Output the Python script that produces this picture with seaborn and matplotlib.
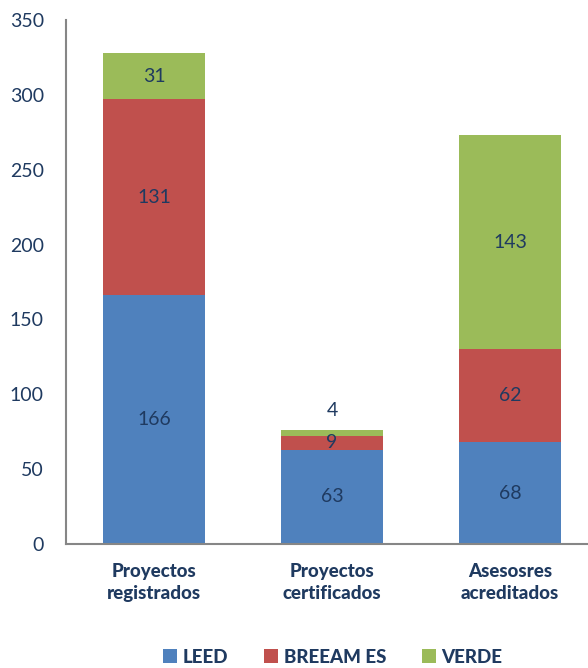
import matplotlib
matplotlib.use("Agg")
import matplotlib.pyplot as plt
import seaborn as sns
import numpy as np
import pandas as pd
from matplotlib.patches import Patch

categories = ["Proyectos\nregistrados", "Proyectos\ncertificados", "Asesosres\nacreditados"]
leed = [166, 63, 68]
breeam = [131, 9, 62]
verde = [31, 4, 143]
series_names = ["LEED", "BREEAM ES", "VERDE"]
colors = ["#4F81BD", "#C0504D", "#9BBB59"]
text_color = "#1F3A60"
yticks = [0, 50, 100, 150, 200, 250, 300, 350]

sns.set_theme(style="white")
plt.rcParams['font.family'] = ['Lato', 'DejaVu Sans']
bold_w = "black"

fig = plt.figure(figsize=(5.88, 6.68), dpi=100)
ax = fig.add_axes([66/588, (668-544)/668, (588-66)/588, 524/668])

l = np.array(leed); b = np.array(breeam); v = np.array(verde)
df = pd.DataFrame({"cat": categories, "leed": l, "lb": l + b, "tot": l + b + v})

width = 0.57
sns.barplot(data=df, x="cat", y="tot", color=colors[2], saturation=1, width=width, ax=ax, edgecolor="none")
sns.barplot(data=df, x="cat", y="lb", color=colors[1], saturation=1, width=width, ax=ax, edgecolor="none")
sns.barplot(data=df, x="cat", y="leed", color=colors[0], saturation=1, width=width, ax=ax, edgecolor="none")

for i in range(len(categories)):
    bottoms = [0, l[i], l[i] + b[i]]
    vals = [l[i], b[i], v[i]]
    for bt, val in zip(bottoms, vals):
        y = bt + val / 2
        if val < 6:
            y = bt + val + 13
        ax.text(i, y, str(val), ha="center", va="center", fontsize=14, color=text_color)

ax.set_xlim(-0.494, 2.438)
ax.set_ylim(0, 350)
ax.set_yticks(yticks)
ax.set_xlabel("")
ax.set_ylabel("")
for s in ["top", "right"]:
    ax.spines[s].set_visible(False)
for s in ["left", "bottom"]:
    ax.spines[s].set_color("#868686")
    ax.spines[s].set_linewidth(1.5)
ax.tick_params(axis="y", length=0, pad=16, labelsize=14, labelcolor=text_color)
ax.tick_params(axis="x", length=0, pad=14, labelsize=13.5, labelcolor=text_color)
for t in ax.get_xticklabels():
    t.set_fontweight(bold_w)
    t.set_linespacing(1.3)

handles = [Patch(facecolor=c, edgecolor="none", label=n) for c, n in zip(colors, series_names)]
leg = fig.legend(handles=handles, loc="center", bbox_to_anchor=(0.566, 0.016), ncol=3, frameon=False,
                 handlelength=0.75, handleheight=0.75, handletextpad=0.3, columnspacing=1.9,
                 prop={"size": 13.5, "weight": bold_w})
for t in leg.get_texts():
    t.set_color(text_color)

fig.savefig("out.png", dpi=100)
